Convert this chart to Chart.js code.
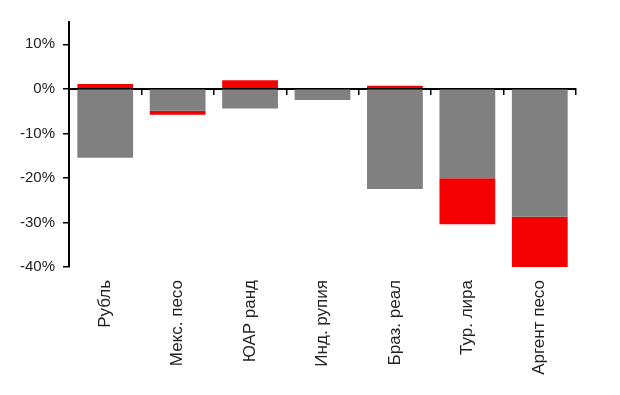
<!DOCTYPE html>
<html><head><meta charset="utf-8">
<script src="https://cdn.jsdelivr.net/npm/chart.js@4/dist/chart.umd.min.js"></script>
<style>html,body{margin:0;padding:0;background:#fff}#w{width:620px;height:395px}</style>
</head><body><div id="w"><canvas id="c"></canvas></div>
<script>
const categories = ['Рубль', 'Мекс. песо', 'ЮАР ранд', 'Инд. рупия', 'Браз. реал', 'Тур. лира', 'Аргент песо'];
const grayValues = [-15.5, -4.9, -4.4, -2.5, -22.5, -20.1, -28.7];
const redValues = [1.1, -0.9, 1.9, 0, 0.7, -10.3, -11.4];
const yMin = -40, yMax = 15, yStep = 10;

const font = {family: '"Liberation Sans", Arial, sans-serif', size: 15};
const xFont = {family: '"Liberation Sans", Arial, sans-serif', size: 17};
new Chart(document.getElementById('c'), {
  type: 'bar',
  data: {
    labels: categories,
    datasets: [
      {data: grayValues, backgroundColor: '#808080', stack: 's', categoryPercentage: 0.77, barPercentage: 1, xAxisID: 'x'},
      {data: redValues, backgroundColor: '#f40000', stack: 's', categoryPercentage: 0.77, barPercentage: 1, xAxisID: 'x'}
    ]
  },
  options: {
    responsive: true, maintainAspectRatio: false, animation: false,
    layout: {padding: {left: 0, right: 44, top: 22, bottom: 0}},
    plugins: {legend: {display: false}, tooltip: {enabled: false}},
    scales: {
      x: {
        type: 'category', stacked: true, position: 'bottom',
        grid: {display: false}, border: {display: false},
        ticks: {autoSkip: false, maxRotation: 90, minRotation: 90, padding: 5, color: '#222', font: xFont},
        afterFit: s => { s.height = 128; }
      },
      x2: {
        type: 'category', labels: categories, position: {y: 0},
        grid: {offset: true, drawOnChartArea: false, drawTicks: true, tickLength: 5, color: '#000', lineWidth: 1.5},
        border: {display: true, color: '#000', width: 2},
        ticks: {display: false}
      },
      y: {
        stacked: true, min: yMin, max: yMax,
        afterBuildTicks: s => { s.ticks = s.ticks.filter(t => t.value % yStep === 0); },
        grid: {drawOnChartArea: false, drawTicks: true, tickLength: 6, color: '#000', lineWidth: 1.5},
        border: {display: true, color: '#000', width: 2},
        ticks: {stepSize: yStep, padding: 8, color: '#222', font: font, callback: v => v + '%'},
        afterFit: s => { s.width = 69; }
      }
    }
  }
});
</script></body></html>
